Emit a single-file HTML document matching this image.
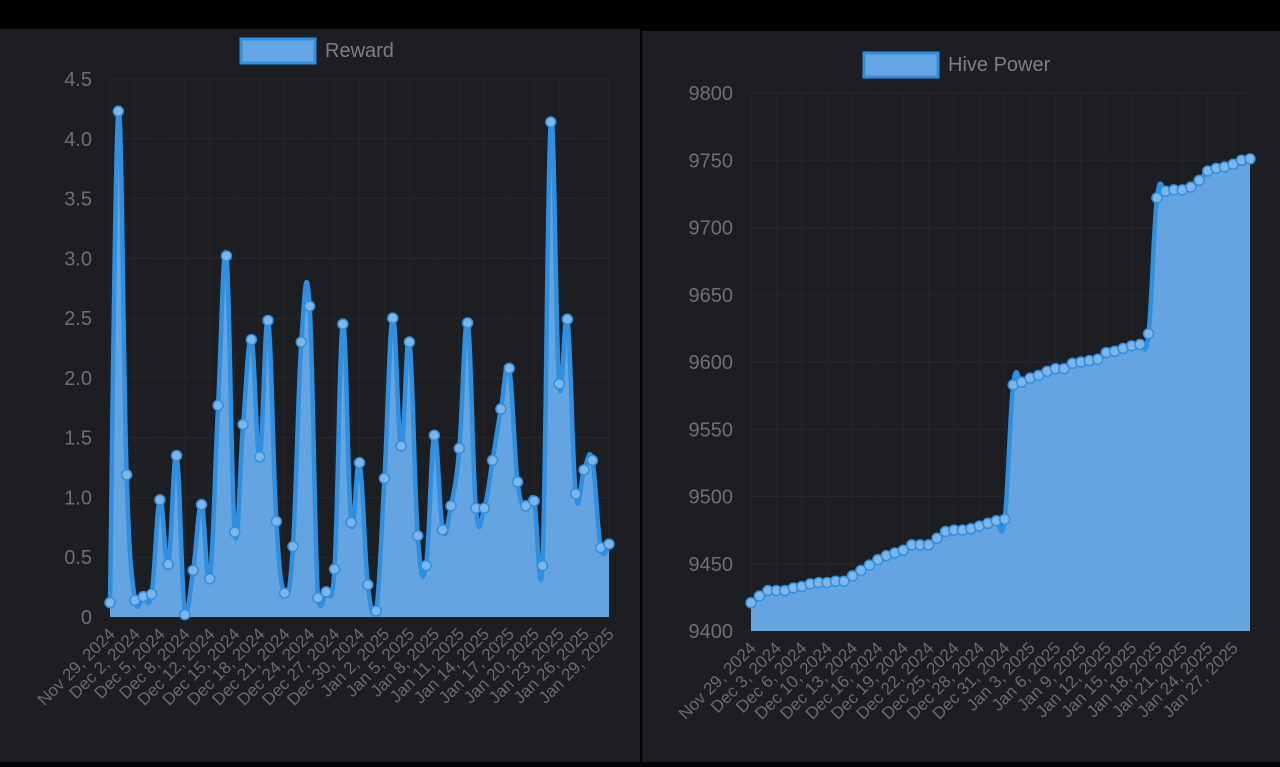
<!DOCTYPE html>
<html><head><meta charset="utf-8"><style>
body{margin:0;width:1280px;height:767px;background:#000;overflow:hidden;font-family:"Liberation Sans",sans-serif}
svg{position:absolute;left:0;top:0}
</style></head><body>
<svg id="s" width="1280" height="767">
<rect x="0" y="29" width="640" height="733" fill="#1d1e22"/>
<rect x="642" y="31" width="638" height="731" fill="#1d1e22"/>
<g>
<rect x="241" y="39" width="74" height="24" fill="#66a6e4" stroke="#2f8fe0" stroke-width="3"/>
<text x="325" y="57" fill="#7d7f85" font-size="20">Reward</text></g>
<g>
<rect x="864" y="53" width="74" height="24" fill="#66a6e4" stroke="#2f8fe0" stroke-width="3"/>
<text x="948" y="71" fill="#7d7f85" font-size="20">Hive Power</text></g>
<g id="c1"></g>
<g id="c2"></g>
</svg>
<script>
const rewardLabels=["Nov 29, 2024","Dec 2, 2024","Dec 5, 2024","Dec 8, 2024","Dec 12, 2024","Dec 15, 2024","Dec 18, 2024","Dec 21, 2024","Dec 24, 2024","Dec 27, 2024","Dec 30, 2024","Jan 2, 2025","Jan 5, 2025","Jan 8, 2025","Jan 11, 2025","Jan 14, 2025","Jan 17, 2025","Jan 20, 2025","Jan 23, 2025","Jan 26, 2025","Jan 29, 2025"];
const rewardValues=[0.12,4.23,1.19,0.14,0.17,0.19,0.98,0.44,1.35,0.02,0.39,0.94,0.32,1.77,3.02,0.71,1.61,2.32,1.34,2.48,0.80,0.20,0.59,2.30,2.60,0.16,0.21,0.40,2.45,0.79,1.29,0.27,0.05,1.16,2.50,1.43,2.30,0.68,0.43,1.52,0.73,0.93,1.41,2.46,0.91,0.91,1.31,1.74,2.08,1.13,0.93,0.97,0.43,4.14,1.95,2.49,1.03,1.23,1.31,0.58,0.61];
const rewardTicks=["0","0.5","1.0","1.5","2.0","2.5","3.0","3.5","4.0","4.5"];
const hpLabels=["Nov 29, 2024","Dec 3, 2024","Dec 6, 2024","Dec 10, 2024","Dec 13, 2024","Dec 16, 2024","Dec 19, 2024","Dec 22, 2024","Dec 25, 2024","Dec 28, 2024","Dec 31, 2024","Jan 3, 2025","Jan 6, 2025","Jan 9, 2025","Jan 12, 2025","Jan 15, 2025","Jan 18, 2025","Jan 21, 2025","Jan 24, 2025","Jan 27, 2025"];
const hpValues=[9421,9426,9430,9430,9430,9432,9433,9435,9436,9436,9437,9437,9441,9445,9449,9453,9456,9458,9460,9464,9464,9464,9469,9474,9475,9475,9476,9478,9480,9482,9483,9583,9585,9588,9590,9593,9595,9595,9599,9600,9601,9602,9607,9608,9610,9612,9613,9621,9722,9727,9728,9728,9730,9735,9742,9744,9745,9747,9750,9751];
const hpTicks=["9400","9450","9500","9550","9600","9650","9700","9750","9800"];
const NS="http://www.w3.org/2000/svg";
function mk(p,t,a){const e=document.createElementNS(NS,t);for(const k in a)e.setAttribute(k,a[k]);p.appendChild(e);return e;}
function draw(g,vals,labels,ticks,ymin,ymax,L,R,T,B,labelEvery){
  const n=vals.length;
  const xs=i=>L+(R-L)*i/(n-1);
  const ys=v=>B-(B-T)*(v-ymin)/(ymax-ymin);
  for(let i=0;i<ticks.length;i++){
    const v=ymin+(ymax-ymin)*i/(ticks.length-1),y=ys(v);
    const gl=mk(g,"line",{x1:L,x2:R,y1:y,y2:y,stroke:"#26272c","stroke-width":1});
    
    
    const t=mk(g,"text",{x:L-18,y:y+7,"text-anchor":"end",fill:"#6e7076","font-size":20});
    t.textContent=ticks[i];
    
    
  }
  for(let j=0;j<labels.length;j++){
    const x=xs(j*labelEvery);
    const gl=mk(g,"line",{x1:x,x2:x,y1:T,y2:B,stroke:"#24252a","stroke-width":1});
    
    
    const t=mk(g,"text",{x:0,y:0,"text-anchor":"end",fill:"#6a6c72","font-size":17,transform:`translate(${x+6},${B+18}) rotate(-45)`});
    t.textContent=labels[j];
    
    
  }
  const P=vals.map((v,i)=>[xs(i),ys(v)]);
  let d=`M${P[0][0]},${P[0][1]}`;const tn=0.4;
  for(let i=0;i<n-1;i++){
    const p0=P[Math.max(0,i-1)],p1=P[i],p2=P[i+1],p3=P[Math.min(n-1,i+2)];
    let c1x=p1[0]+(p2[0]-p0[0])*tn/2,c1y=p1[1]+(p2[1]-p0[1])*tn/2;
    let c2x=p2[0]-(p3[0]-p1[0])*tn/2,c2y=p2[1]-(p3[1]-p1[1])*tn/2;
    c1y=Math.min(c1y,B);c2y=Math.min(c2y,B);
    d+=` C${c1x},${c1y} ${c2x},${c2y} ${p2[0]},${p2[1]}`;
  }
  const area=mk(g,"path",{d:d+` L${R},${B} L${L},${B} Z`,fill:"#64a4e0"});
  
  
  const line=mk(g,"path",{d:d,fill:"none",stroke:"#2f8fe0","stroke-width":4.5,"stroke-linejoin":"round"});
  
  
  P.forEach(p=>{
    const c=mk(g,"circle",{cx:p[0],cy:p[1],r:5,fill:"#7fb6ea",stroke:"#2f8fe0","stroke-width":1.5});
    
    
  });
}
draw(document.getElementById("c1"),rewardValues,rewardLabels,rewardTicks,0,4.5,110,609,79,617,3);
draw(document.getElementById("c2"),hpValues,hpLabels,hpTicks,9400,9800,751,1250,93,631,3);
</script>
</body></html>
